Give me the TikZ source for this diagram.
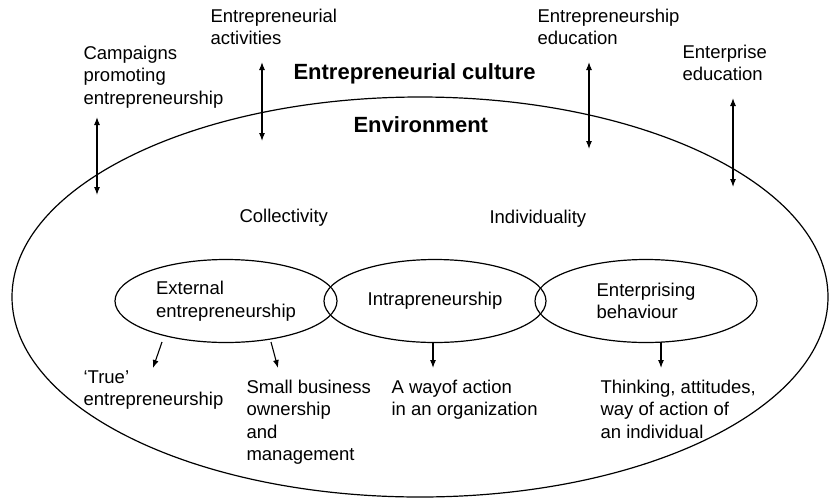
\documentclass[tikz,border=0pt]{standalone}
\usepackage{fontspec}
\setmainfont{Liberation Sans}
\usetikzlibrary{shapes.geometric,arrows.meta}

\begin{document}
\begin{tikzpicture}[x=1pt, y=-1pt, line width=1.1pt,
    every node/.style={inner sep=0pt, align=left, font=\fontsize{18.5}{22.5}\selectfont},
    txt/.style={anchor=base west},
    heading/.style={anchor=base west, font=\fontsize{22}{26}\selectfont\bfseries},
    field/.style={draw, ellipse, line width=1.2pt, minimum width=222pt, minimum height=83pt},
    link/.style={{Latex[length=8pt,width=6pt]}-{Latex[length=8pt,width=6pt]}},
    down/.style={-{Latex[length=8pt,width=6pt]}}]
        \useasboundingbox (0,0) rectangle (830,499);
        \node[draw, ellipse, line width=1.2pt, minimum width=816pt, minimum height=400pt] (env) at (420,297) {};
        \node[heading] (culture) at (293,79) {Entrepreneurial culture};
        \node[heading] (envtitle) at (353,132) {Environment};
        % base west sits on the last line of each label
        \node[txt] (camp) at (83,104) {Campaigns\\promoting\\entrepreneurship};
        \node[txt] (activ) at (210,44.5) {Entrepreneurial\\activities};
        \node[txt] (eshipedu) at (537,44.5) {Entrepreneurship\\education};
        \node[txt] (entedu) at (682,80.5) {Enterprise\\education};
        \node[txt] (coll) at (239,222) {Collectivity};
        \node[txt] (indiv) at (489,223) {Individuality};
        \node[field] (ext) at (226,301) {External\\entrepreneurship};
        \node[field] (intra) at (435,301) {Intrapreneurship};
        \node[field] (ent) at (646,301) {Enterprising\\behaviour};
        \node[txt] (true) at (83,405.5) {`True'\\entrepreneurship};
        \node[txt] (small) at (246,460.5) {Small business\\ownership\\and\\management};
        \node[txt] (org) at (391,415.5) {A wayof action\\in an organization};
        \node[txt] (indivact) at (600,438) {Thinking, attitudes,\\way of action of\\an individual};
        \coordinate (camp1) at (97,117);
        \coordinate (camp2) at (97,195);
        \coordinate (activ1) at (262,62);
        \coordinate (activ2) at (262,141);
        \coordinate (eshipedu1) at (589,62);
        \coordinate (eshipedu2) at (589,149);
        \coordinate (entedu1) at (733,98);
        \coordinate (entedu2) at (733,187);
        \coordinate (true1) at (162,342);
        \coordinate (true2) at (153,368);
        \coordinate (small1) at (271,342);
        \coordinate (small2) at (278,368);
        \coordinate (org1) at (433,342);
        \coordinate (org2) at (433,368);
        \coordinate (indivact1) at (661,342);
        \coordinate (indivact2) at (661,368);
        \draw[link] (camp1) -- (camp2);
        \draw[link] (activ1) -- (activ2);
        \draw[link] (eshipedu1) -- (eshipedu2);
        \draw[link] (entedu1) -- (entedu2);
        \draw[down] (true1) -- (true2);
        \draw[down] (small1) -- (small2);
        \draw[down] (org1) -- (org2);
        \draw[down] (indivact1) -- (indivact2);
\end{tikzpicture}
\end{document}
